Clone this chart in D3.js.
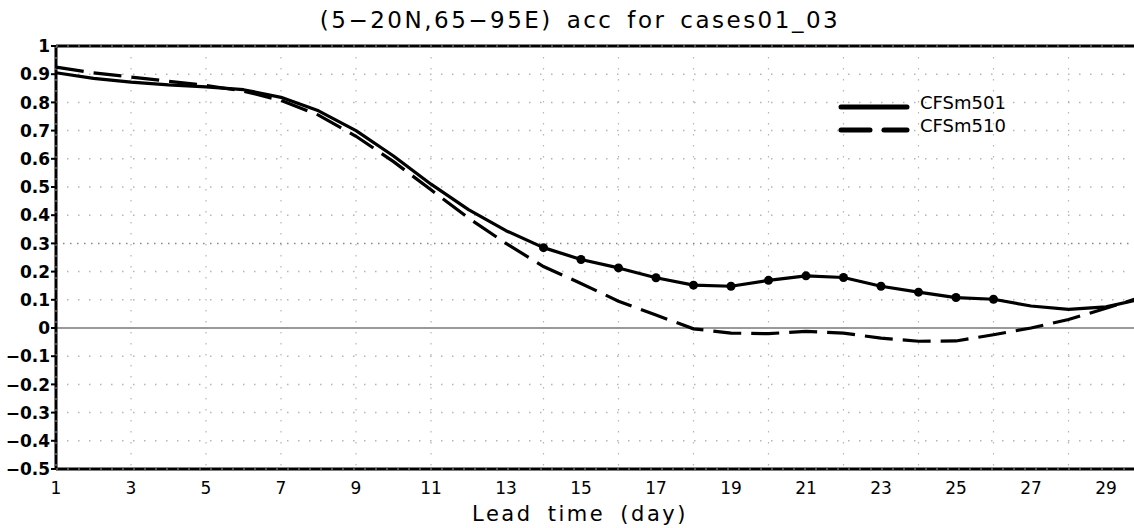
<!DOCTYPE html>
<html>
<head>
<meta charset="utf-8">
<script src="https://cdn.jsdelivr.net/npm/d3@7"></script>
<style>
  body { margin: 0; background: #fff; }
  svg { display: block; font-family: "DejaVu Sans", sans-serif; }
</style>
</head>
<body>
<div id="chart"></div>
<script>
// lead days 1..30
var days = d3.range(1, 31);

// CFSm501 (solid)
var cfs501 = [0.905, 0.885, 0.872, 0.862, 0.855, 0.845, 0.818, 0.77, 0.70, 0.61,
              0.51, 0.42, 0.345, 0.285, 0.243, 0.213, 0.178, 0.152, 0.148, 0.169,
              0.185, 0.179, 0.148, 0.127, 0.108, 0.102, 0.078, 0.066, 0.075, 0.105];
// CFSm510 (dashed)
var cfs510 = [0.925, 0.905, 0.89, 0.875, 0.86, 0.84, 0.807, 0.755, 0.68, 0.59,
              0.49, 0.39, 0.30, 0.218, 0.158, 0.095, 0.046, -0.003, -0.018, -0.02,
              -0.012, -0.018, -0.036, -0.047, -0.046, -0.024, 0.0, 0.03, 0.07, 0.112];
// days marked with a dot on CFSm501
var markedDays = [14, 15, 16, 17, 18, 19, 20, 21, 22, 23, 24, 25, 26];

var xTicks = [1, 3, 5, 7, 9, 11, 13, 15, 17, 19, 21, 23, 25, 27, 29];
var xGrid = [3, 5, 7, 9, 11, 14, 16, 18, 20, 22, 24, 26, 28];
var yTicks = [-0.5, -0.4, -0.3, -0.2, -0.1, 0, 0.1, 0.2, 0.3, 0.4, 0.5, 0.6, 0.7, 0.8, 0.9, 1];

var width = 1134, height = 528;
var plotLeft = 56, plotTop = 46, plotBottom = 469;

var x = d3.scaleLinear().domain([1, 30]).range([plotLeft, plotLeft + 29 * 37.5]);
var y = d3.scaleLinear().domain([-0.5, 1]).range([plotBottom, plotTop]);

var svg = d3.select("#chart").append("svg")
    .attr("width", width)
    .attr("height", height);

// dotted grid
svg.append("g").selectAll("line")
    .data(yTicks.filter(function (d) { return d !== 0 && d !== 1 && d !== -0.5; }))
    .enter().append("line")
    .attr("x1", plotLeft).attr("x2", width)
    .attr("y1", function (d) { return y(d); })
    .attr("y2", function (d) { return y(d); })
    .attr("stroke", function (d) { return Math.abs(d - 0.3) < 1e-9 ? "#888" : "#b5b5b5"; })
    .attr("stroke-width", 1.5)
    .attr("stroke-dasharray", function (d) { return Math.abs(d - 0.3) < 1e-9 ? "1.5,5.5" : "1.5,9.5"; });

svg.append("g").selectAll("line")
    .data(xGrid)
    .enter().append("line")
    .attr("x1", function (d) { return x(d); })
    .attr("x2", function (d) { return x(d); })
    .attr("y1", plotTop).attr("y2", plotBottom)
    .attr("stroke", "#b5b5b5")
    .attr("stroke-width", 1.2)
    .attr("stroke-dasharray", "1.5,9.5");

// zero line
svg.append("line")
    .attr("x1", plotLeft).attr("x2", width)
    .attr("y1", y(0)).attr("y2", y(0))
    .attr("stroke", "#777")
    .attr("stroke-width", 1.5);

// frame (top, bottom, left)
var frame = [[plotLeft, plotTop, width, plotTop], [plotLeft, plotBottom, width, plotBottom], [plotLeft, plotTop, plotLeft, plotBottom]];
svg.append("g").selectAll("line")
    .data(frame)
    .enter().append("line")
    .attr("x1", function (d) { return d[0]; }).attr("y1", function (d) { return d[1]; })
    .attr("x2", function (d) { return d[2]; }).attr("y2", function (d) { return d[3]; })
    .attr("stroke", "#000")
    .attr("stroke-width", 3);
svg.append("g").selectAll("line")
    .data(frame)
    .enter().append("line")
    .attr("x1", function (d) { return d[0]; }).attr("y1", function (d) { return d[1]; })
    .attr("x2", function (d) { return d[2]; }).attr("y2", function (d) { return d[3]; })
    .attr("stroke", "#999")
    .attr("stroke-width", 1)
    .attr("stroke-dasharray", "2,9");

// y axis ticks and labels
var yAxis = svg.append("g").attr("transform", "translate(" + plotLeft + ",0)");
yAxis.selectAll("line")
    .data(yTicks)
    .enter().append("line")
    .attr("x1", -5).attr("x2", 0)
    .attr("y1", function (d) { return y(d); })
    .attr("y2", function (d) { return y(d); })
    .attr("stroke", "#000").attr("stroke-width", 2);
yAxis.selectAll("text")
    .data(yTicks)
    .enter().append("text")
    .attr("x", -6)
    .attr("y", function (d) { return y(d); })
    .attr("dy", "0.36em")
    .attr("text-anchor", "end")
    .style("font-size", "17px")
    .style("font-weight", "bold")
    .text(function (d) { return d === 0 ? "0" : d3.format("")(d).replace("-", "\u2212"); });

// x axis labels
svg.append("g").selectAll("text")
    .data(xTicks)
    .enter().append("text")
    .attr("x", function (d) { return x(d); })
    .attr("y", 494)
    .attr("text-anchor", "middle")
    .style("font-size", "17px")
    .text(function (d) { return d; });

// lines
var line501 = d3.line()
    .x(function (d, i) { return x(days[i]); })
    .y(function (d) { return y(d); });

svg.append("path")
    .datum(cfs501)
    .attr("d", line501)
    .attr("fill", "none")
    .attr("stroke", "#000")
    .attr("stroke-width", 3.2)
    .attr("stroke-linejoin", "round");

svg.append("path")
    .datum(cfs510)
    .attr("d", line501)
    .attr("fill", "none")
    .attr("stroke", "#000")
    .attr("stroke-width", 3.2)
    .attr("stroke-dasharray", "28,10");

svg.append("g").selectAll("circle")
    .data(markedDays)
    .enter().append("circle")
    .attr("cx", function (d) { return x(d); })
    .attr("cy", function (d) { return y(cfs501[d - 1]); })
    .attr("r", 4.5)
    .attr("fill", "#000");

// legend
var legend = svg.append("g");
legend.append("line")
    .attr("x1", 841).attr("x2", 907).attr("y1", 107).attr("y2", 107)
    .attr("stroke", "#000").attr("stroke-width", 5).attr("stroke-linecap", "round");
legend.append("line")
    .attr("x1", 841).attr("x2", 907).attr("y1", 130).attr("y2", 130)
    .attr("stroke", "#000").attr("stroke-width", 5).attr("stroke-linecap", "round")
    .attr("stroke-dasharray", "29,14");
legend.append("text").attr("x", 920).attr("y", 109)
    .style("font-size", "18px").text("CFSm501");
legend.append("text").attr("x", 920).attr("y", 132)
    .style("font-size", "18px").text("CFSm510");

// title
svg.append("text")
    .attr("x", 580).attr("y", 28)
    .attr("text-anchor", "middle")
    .style("font-size", "23px")
    .style("letter-spacing", "2.5px")
    .style("word-spacing", "4px")
    .text("(5\u221220N,65\u221295E) acc for cases01_03");

// x axis title
svg.append("text")
    .attr("x", 580).attr("y", 521)
    .attr("text-anchor", "middle")
    .style("font-size", "21px")
    .style("letter-spacing", "2.5px")
    .style("word-spacing", "6px")
    .text("Lead time (day)");
</script>
</body>
</html>
